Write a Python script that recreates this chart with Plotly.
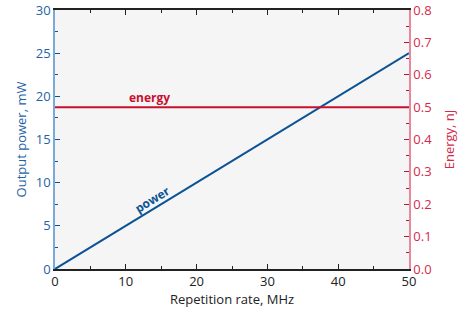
import plotly.graph_objects as go

rate_mhz = [0, 50]
power_mw = [0, 25]
energy_nj = [0.5, 0.5]

BLUE = "#0b5394"
BLUE_TXT = "#1f62a6"
RED = "#c8102e"
RED_TXT = "#d42a4a"
FONT = "Open Sans"

fig = go.Figure()
fig.add_trace(go.Scatter(x=rate_mhz, y=power_mw, mode="lines",
                         line=dict(color=BLUE, width=2), yaxis="y", showlegend=False))
fig.add_trace(go.Scatter(x=rate_mhz, y=energy_nj, mode="lines",
                         line=dict(color=RED, width=2), yaxis="y2", showlegend=False))

fig.update_layout(
    width=468, height=315,
    margin=dict(l=55, r=59, t=10, b=46, autoexpand=False),
    paper_bgcolor="white", plot_bgcolor="#f5f5f5",
    font=dict(family=FONT, size=13),
    xaxis=dict(range=[0, 50], dtick=10, showgrid=False, zeroline=False, automargin=False,
               showline=True, linecolor="#222", linewidth=1.5, mirror="ticks",
               ticks="inside", ticklen=5, tickcolor="#222",
               minor=dict(ticks="inside", dtick=5, ticklen=3, tickcolor="#222"),
               tickfont=dict(color="#222", size=13),
               title=dict(text="Repetition rate, MHz", font=dict(color="#222", size=13), standoff=4)),
    yaxis=dict(range=[0, 30], dtick=5, showgrid=False, zeroline=False, automargin=False,
               showline=True, linecolor="#7aaad8", linewidth=1.5,
               ticks="inside", ticklen=5, tickcolor=BLUE,
               minor=dict(ticks="inside", dtick=2.5, ticklen=3, tickcolor=BLUE),
               tickfont=dict(color=BLUE_TXT, size=13),
               title=dict(text="Output power, mW", font=dict(color=BLUE_TXT, size=13), standoff=6)),
    yaxis2=dict(range=[0, 0.8], dtick=0.1, tickformat=".1f", overlaying="y", side="right",
                showgrid=False, zeroline=False, automargin=False,
                showline=True, linecolor="#e58a9c", linewidth=1.5,
                ticks="inside", ticklen=5, tickcolor=RED,
                minor=dict(ticks="inside", dtick=0.05, ticklen=3, tickcolor=RED),
                tickfont=dict(color=RED_TXT, size=13),
                title=dict(text="Energy, nJ", font=dict(color=RED_TXT, size=13), standoff=14)),
    annotations=[
        dict(x=13.4, y=19.9, xref="x", yref="y", text="<b>energy</b>", showarrow=False,
             font=dict(color=RED, size=12, family=FONT)),
        dict(x=13.7, y=8.1, xref="x", yref="y", text="<b>power</b>", showarrow=False,
             textangle=-31.5, font=dict(color=BLUE, size=12, family=FONT)),
    ],
)

fig.write_html("out.html", config={"displayModeBar": False},
               post_script="document.body.style.margin='0';document.body.style.overflow='hidden';")
